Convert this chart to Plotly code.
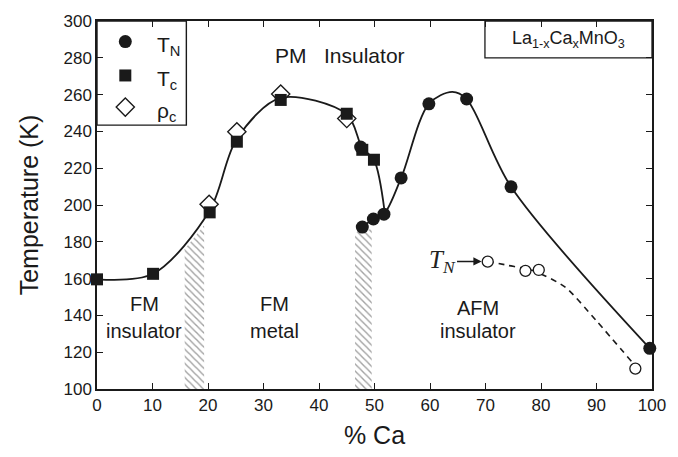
import plotly.graph_objects as go

# ---------------- data ----------------
tn_x = [47.5, 47.8, 49.8, 51.7, 54.8, 59.8, 66.6, 74.6, 99.6]
tn_y = [231.5, 188.0, 192.4, 195.0, 214.7, 255.0, 257.6, 209.9, 122.1]

tc_x = [0, 10.1, 20.3, 25.2, 33.1, 45.0, 47.8, 49.9]
tc_y = [159.6, 162.6, 196.0, 234.4, 257.1, 249.6, 230.0, 224.6]

rho_x = [20.2, 25.2, 33.1, 45.0]
rho_y = [200.4, 239.8, 260.3, 247.0]

tn_open_x = [70.4, 77.2, 79.6, 97.0]
tn_open_y = [169.2, 164.2, 164.7, 111.1]

# guide curves
curve_left_x = [0, 10.1, 20.3, 25.2, 33.1, 45.0, 47.8, 49.9, 51.8]
curve_left_y = [159.6, 162.6, 197.0, 236.0, 258.2, 249.3, 231.0, 224.6, 197.0]
curve_right_x = [47.8, 49.8, 51.7, 54.8, 59.8, 64.0, 66.6, 74.6, 99.6]
curve_right_y = [188.0, 192.4, 195.0, 214.7, 255.0, 261.5, 257.6, 209.9, 122.1]
dash_x = [70.4, 74.0, 78.4, 84.3, 90.0, 96.3]
dash_y = [169.5, 167.2, 164.5, 155.5, 137.0, 115.0]

# hatched crossover regions
hatch1_x = [15.8, 19.3, 19.3, 15.8]
hatch1_y = [100, 100, 189, 176]
hatch2_x = [46.5, 49.5, 49.5, 46.5]
hatch2_y = [100, 100, 187, 185]

# legend entries
legend_labels = ["T<sub>N</sub>", "T<sub>c</sub>", "ρ<sub>c</sub>"]

x_ticks = [0, 10, 20, 30, 40, 50, 60, 70, 80, 90, 100]
y_ticks = [100, 120, 140, 160, 180, 200, 220, 240, 260, 280, 300]

FONT = "Liberation Sans"
INK = "#1a1a1a"

fig = go.Figure()

for hx, hy in [(hatch1_x, hatch1_y), (hatch2_x, hatch2_y)]:
    fig.add_trace(go.Scatter(
        x=hx, y=hy, mode="lines", fill="toself", line=dict(width=0),
        fillcolor="rgba(0,0,0,0)",
        fillpattern=dict(shape="\\", fgcolor="#444", bgcolor="white", size=5, solidity=0.28),
        showlegend=False, hoverinfo="skip"))

fig.add_trace(go.Scatter(x=curve_left_x, y=curve_left_y, mode="lines",
                         line=dict(color=INK, width=1.8, shape="spline", smoothing=0.9),
                         showlegend=False, hoverinfo="skip", cliponaxis=False))
fig.add_trace(go.Scatter(x=curve_right_x, y=curve_right_y, mode="lines",
                         line=dict(color=INK, width=1.8, shape="spline", smoothing=0.9),
                         showlegend=False, hoverinfo="skip", cliponaxis=False))
fig.add_trace(go.Scatter(x=dash_x, y=dash_y, mode="lines",
                         line=dict(color=INK, width=1.6, dash="6px,5px", shape="spline", smoothing=0.7),
                         showlegend=False, hoverinfo="skip"))

circle_m = dict(symbol="circle", size=13, color=INK)
square_m = dict(symbol="square", size=12, color=INK)
diamond_m = dict(symbol="diamond", size=14, color="white", line=dict(color=INK, width=1.4))

fig.add_trace(go.Scatter(x=rho_x, y=rho_y, mode="markers", marker=diamond_m,
                         showlegend=False, cliponaxis=False))
fig.add_trace(go.Scatter(x=tc_x, y=tc_y, mode="markers", marker=square_m,
                         showlegend=False, cliponaxis=False))
fig.add_trace(go.Scatter(x=tn_x, y=tn_y, mode="markers", marker=circle_m,
                         showlegend=False, cliponaxis=False))
fig.add_trace(go.Scatter(x=tn_open_x, y=tn_open_y, mode="markers",
                         marker=dict(symbol="circle", size=11, color="white",
                                     line=dict(color=INK, width=1.3)),
                         showlegend=False, cliponaxis=False))

# ---- legend (box + symbols + labels), in paper coordinates ----
fig.add_shape(type="rect", xref="paper", yref="paper", x0=0.0, x1=0.161, y0=0.717, y1=1.0,
              line=dict(color=INK, width=1.4), fillcolor="rgba(0,0,0,0)", layer="above")
leg_rows = [0.944, 0.852, 0.766]
for lab, mk, ry in zip(legend_labels, [circle_m, square_m, diamond_m], leg_rows):
    fig.add_trace(go.Scatter(x=[0.051], y=[ry], xaxis="x2", yaxis="y2", mode="markers",
                             marker=mk, showlegend=False, hoverinfo="skip", cliponaxis=False))
    fig.add_annotation(xref="paper", yref="paper", x=0.104, y=ry - 0.012,
                       xanchor="left", yanchor="middle",
                       text=lab, showarrow=False,
                       font=dict(family=FONT, size=21, color=INK))

# compound label box
fig.add_shape(type="rect", xref="paper", yref="paper", x0=0.699, x1=1.0, y0=0.90, y1=1.0,
              line=dict(color=INK, width=1.3), fillcolor="rgba(0,0,0,0)", layer="above")

ann_font = dict(family=FONT, size=20, color=INK)
texts = [
    (8.5, 146, "FM"), (8.5, 131.5, "insulator"),
    (32.0, 146, "FM"), (32.0, 131.5, "metal"),
    (68.7, 144, "AFM"), (68.7, 131.5, "insulator"),
]
for x, y, t in texts:
    fig.add_annotation(x=x, y=y, text=t, showarrow=False, font=ann_font)
fig.add_annotation(x=43.8, y=281, text="PM&nbsp;&nbsp;&nbsp;Insulator", showarrow=False,
                   font=dict(family=FONT, size=21, color=INK))

fig.add_annotation(x=85, y=290.2, text="La<sub>1-x</sub>Ca<sub>x</sub>MnO<sub>3</sub>",
                   showarrow=False, font=dict(family=FONT, size=18, color=INK))

fig.add_annotation(x=62.2, y=169.5, text="<i>T<sub>N</sub></i>", showarrow=False,
                   font=dict(family="Liberation Serif", size=25, color="#222"))
fig.add_annotation(x=69.3, y=169.3, ax=64.6, ay=169.3, axref="x", ayref="y",
                   xref="x", yref="y", text="", showarrow=True,
                   arrowhead=2, arrowsize=1.1, arrowwidth=1.5, arrowcolor=INK)

axis_common = dict(showline=True, linecolor=INK, linewidth=1.5, mirror="ticks",
                   ticks="inside", ticklen=6, tickwidth=1.3, tickcolor=INK,
                   showgrid=False, zeroline=False,
                   tickfont=dict(family=FONT, size=17, color=INK))

fig.update_layout(
    width=678, height=457,
    margin=dict(l=97, r=16, t=16, b=68),
    paper_bgcolor="white", plot_bgcolor="white",
    font=dict(family=FONT, color=INK),
    showlegend=False,
    xaxis=dict(range=[0, 100], tickvals=x_ticks, ticktext=[str(v) for v in x_ticks],
               title=dict(text="% Ca", font=dict(family=FONT, size=25, color=INK), standoff=12),
               **axis_common),
    yaxis=dict(range=[100, 300], tickvals=y_ticks, ticktext=[str(v) for v in y_ticks],
               title=dict(text="Temperature (K)", font=dict(family=FONT, size=25, color=INK), standoff=18),
               **axis_common),
    xaxis2=dict(range=[0, 1], domain=[0, 1], anchor="y2", overlaying="x", visible=False),
    yaxis2=dict(range=[0, 1], domain=[0, 1], anchor="x2", overlaying="y", visible=False),
)

fig.write_html("out.html")
